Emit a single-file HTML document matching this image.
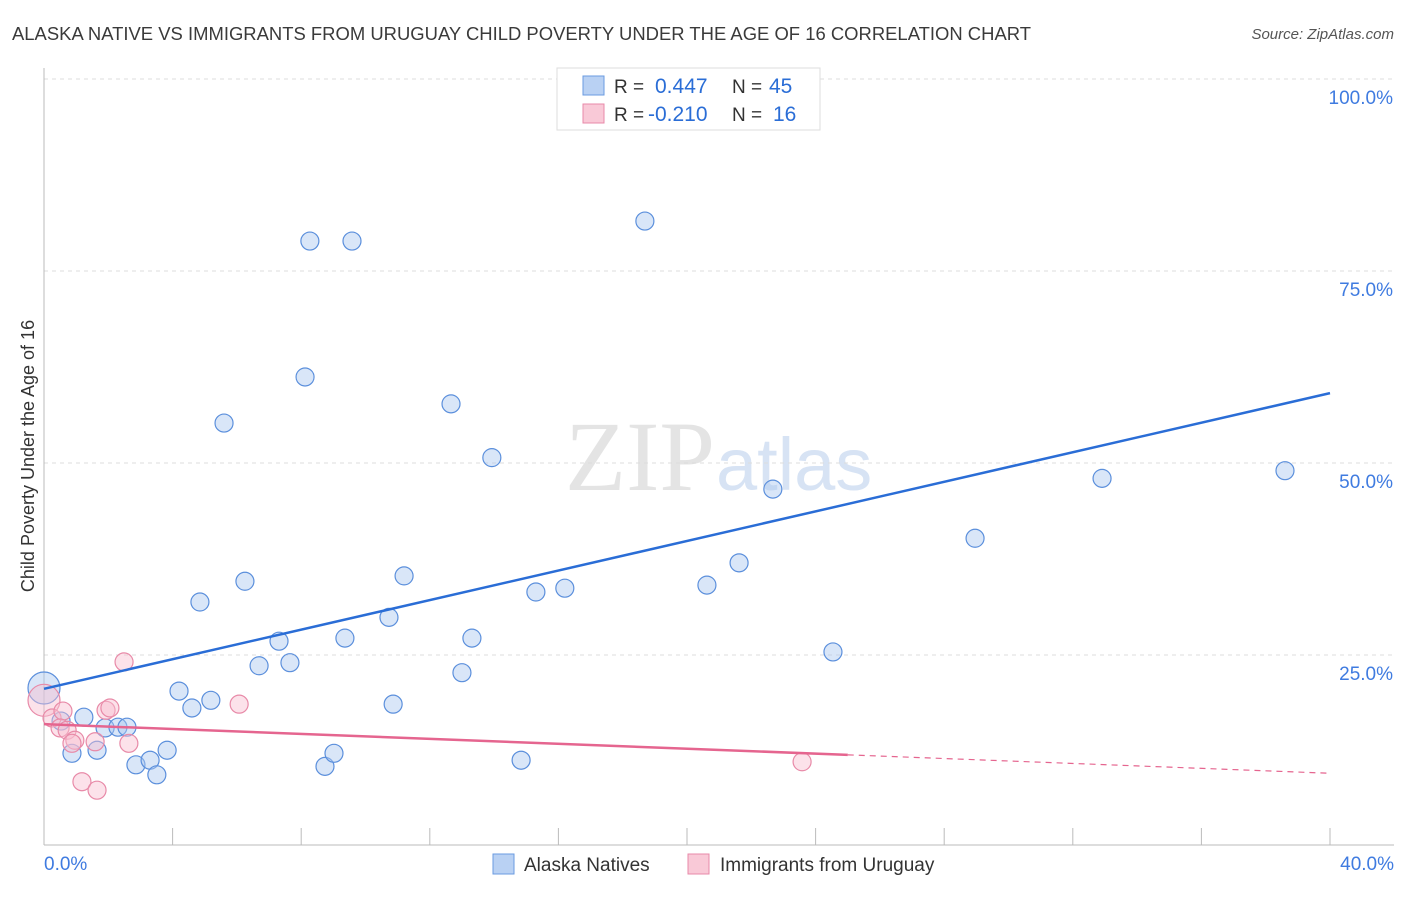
<!DOCTYPE html>
<html><head><meta charset="utf-8"><style>
body{margin:0;background:#fff;font-family:"Liberation Sans",sans-serif}
</style></head><body>
<svg width="1406" height="892" xmlns="http://www.w3.org/2000/svg" id="chart" font-family="Liberation Sans, sans-serif">
<text x="12" y="40" font-size="18" fill="#3a3a3a" textLength="1019" lengthAdjust="spacingAndGlyphs">ALASKA NATIVE VS IMMIGRANTS FROM URUGUAY CHILD POVERTY UNDER THE AGE OF 16 CORRELATION CHART</text>
<text x="1394" y="39" font-size="15" fill="#555" font-style="italic" text-anchor="end">Source: ZipAtlas.com</text>
<text x="34" y="456" font-size="18" fill="#333" text-anchor="middle" transform="rotate(-90 34 456)">Child Poverty Under the Age of 16</text>
<text x="715" y="490" font-size="100" fill="#e4e4e4" text-anchor="end" font-family="Liberation Serif, serif">ZIP</text>
<text x="716" y="490" font-size="74" fill="#d7e3f4">atlas</text>
<g id="grid"></g><g id="axes"></g><g id="marks"></g>
<g>
<rect x="557" y="68" width="263" height="62" fill="#fff" stroke="#ddd"/>
<rect x="583" y="76" width="21" height="19" fill="#b9d1f3" stroke="#6a9be0"/>
<rect x="583" y="104" width="21" height="19" fill="#f9c9d7" stroke="#e889a8"/>
<text x="614" y="93" font-size="19" fill="#333">R = <tspan x="655" fill="#2a6dd6" font-size="21">0.447</tspan><tspan x="732">N = </tspan><tspan x="769" fill="#2a6dd6" font-size="21">45</tspan></text>
<text x="614" y="121" font-size="19" fill="#333">R = <tspan x="648" fill="#2a6dd6" font-size="21">-0.210</tspan><tspan x="732">N = </tspan><tspan x="773" fill="#2a6dd6" font-size="21">16</tspan></text>
</g>
<g>
<rect x="493" y="854" width="21" height="20" fill="#b9d1f3" stroke="#6a9be0"/>
<text x="524" y="871" font-size="19" fill="#333">Alaska Natives</text>
<rect x="688" y="854" width="21" height="20" fill="#f9c9d7" stroke="#e889a8"/>
<text x="720" y="871" font-size="19" fill="#333">Immigrants from Uruguay</text>
</g>
</svg>
<script>
const blueX=[0,0.53,0.87,1.24,1.65,1.90,2.30,2.58,2.86,3.30,3.51,3.83,4.20,4.60,4.85,5.19,5.60,6.25,6.69,7.31,7.65,8.12,8.27,8.74,9.02,9.36,9.58,10.73,10.86,11.20,12.66,13.0,13.31,13.93,14.84,15.30,16.2,18.69,20.62,21.62,22.67,24.54,28.96,32.91,38.6];
const blueY=[20.7,16.4,12.2,16.9,12.6,15.5,15.6,15.6,10.7,11.3,9.4,12.6,20.3,18.1,31.9,19.1,55.2,34.6,23.6,26.8,24.0,61.2,78.9,10.5,12.2,27.2,78.9,29.9,18.6,35.3,57.7,22.7,27.2,50.7,11.3,33.2,33.7,81.5,34.1,37.0,46.6,25.4,40.2,48.0,49.0];
const pinkX=[0,0.25,0.59,0.5,0.72,0.96,0.87,1.18,1.65,1.59,1.93,2.05,2.49,2.64,6.07,23.58];
const pinkY=[19.1,16.8,17.7,15.5,15.2,13.9,13.5,8.5,7.4,13.7,17.8,18.1,24.1,13.5,18.6,11.1];
const blueTrend=[20.6,59.1];
const pinkTrend=[16.0,12.0,9.6];
const pinkSolidEnd=25;
const yTicks=[25,50,75,100];
const yTickLabels=["25.0%","50.0%","75.0%","100.0%"];
const xTicks=[0,4,8,12,16,20,24,28,32,36,40];
const NS="http://www.w3.org/2000/svg";
const sx=v=>44+v*1286/40, sy=v=>847-v*7.68;
function mk(t,a,p){const e=document.createElementNS(NS,t);for(const k in a)e.setAttribute(k,a[k]);document.getElementById(p).appendChild(e);return e;}
yTicks.forEach((v,i)=>{
 const l=mk('line',{x1:44,x2:1394,y1:sy(v),y2:sy(v),stroke:'#ddd','stroke-dasharray':'4,4'},'grid');
 
 
 const t=mk('text',{x:1393,y:sy(v)+25,'font-size':19,fill:'#3f7be0','text-anchor':'end'},'grid');t.textContent=yTickLabels[i];
 
 
});
const ax=mk('line',{x1:44,x2:44,y1:68,y2:845,stroke:'#bbb'},'axes');


const bx=mk('line',{x1:44,x2:1394,y1:845,y2:845,stroke:'#bbb'},'axes');


xTicks.forEach(v=>{const t=mk('line',{x1:sx(v),x2:sx(v),y1:828,y2:845,stroke:'#bbb'},'axes');
 
 });
[[0,'start',44,'0.0%'],[40,'end',1394,'40.0%']].forEach(d=>{const t=mk('text',{x:d[2],y:870,'font-size':19,fill:'#3f7be0','text-anchor':d[1]},'axes');t.textContent=d[3];
 
 });
blueX.forEach((x,i)=>{const c=mk('circle',{cx:sx(x),cy:sy(blueY[i]),r:i==0?16:9,fill:'rgba(170,200,240,0.45)',stroke:'#5b8fdc','stroke-width':1.2},'marks');
 
 });
pinkX.forEach((x,i)=>{const c=mk('circle',{cx:sx(x),cy:sy(pinkY[i]),r:i==0?16:9,fill:'rgba(248,190,208,0.45)',stroke:'#e88aa8','stroke-width':1.2},'marks');
 
 });
const bl=mk('line',{x1:sx(0),y1:sy(blueTrend[0]),x2:sx(40),y2:sy(blueTrend[1]),stroke:'#2a6dd6','stroke-width':2.5},'marks');


const pl=mk('line',{x1:sx(0),y1:sy(pinkTrend[0]),x2:sx(pinkSolidEnd),y2:sy(pinkTrend[1]),stroke:'#e5658f','stroke-width':2.5},'marks');


const pd=mk('line',{x1:sx(pinkSolidEnd),y1:sy(pinkTrend[1]),x2:sx(40),y2:sy(pinkTrend[2]),stroke:'#e5658f','stroke-width':1.2,'stroke-dasharray':'6,5'},'marks');


</script>
</body></html>
